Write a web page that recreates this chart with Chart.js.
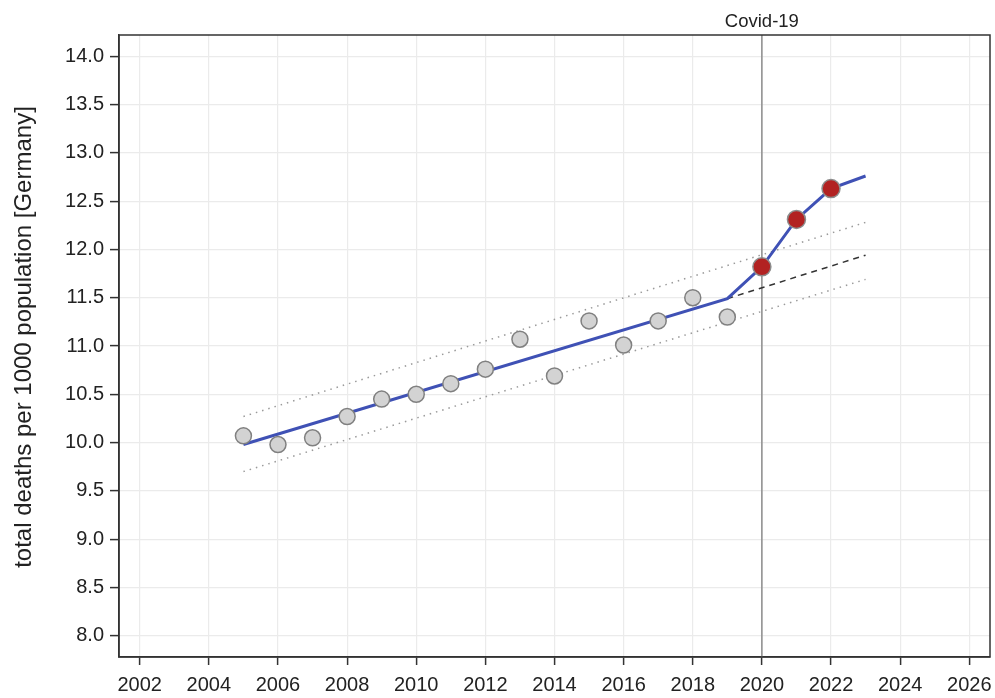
<!DOCTYPE html>
<html>
<head>
<meta charset="utf-8">
<script src="https://cdn.jsdelivr.net/npm/chart.js@4/dist/chart.umd.min.js"></script>
<style>
  html, body { margin: 0; padding: 0; background: #fff; }
  #wrap { width: 995px; height: 698px; }
</style>
</head>
<body>
<div id="wrap"><canvas id="myChart" width="995" height="698"></canvas></div>
<script>
// observed values (deaths per 1000)
var yearsObs = [2005, 2006, 2007, 2008, 2009, 2010, 2011, 2012, 2013, 2014, 2015, 2016, 2017, 2018, 2019];
var deathsObs = [10.07, 9.98, 10.05, 10.27, 10.45, 10.50, 10.61, 10.76, 11.07, 10.69, 11.26, 11.01, 11.26, 11.50, 11.30];

// covid years
var yearsCovid = [2020, 2021, 2022];
var deathsCovid = [11.82, 12.31, 12.63];

// fitted line (trend until 2019, then through covid years)
var fitYears = [2005, 2019, 2020, 2021, 2022, 2023];
var fitValues = [9.98, 11.49, 11.82, 12.31, 12.63, 12.76];

// trend continued without covid
var projYears = [2019, 2023];
var projValues = [11.49, 11.94];

// prediction band
var bandYears = [2005, 2023];
var bandUpper = [10.27, 12.28];
var bandLower = [9.70, 11.69];

var xTicks = [2002, 2004, 2006, 2008, 2010, 2012, 2014, 2016, 2018, 2020, 2022, 2024, 2026];
var yTicks = [8.0, 8.5, 9.0, 9.5, 10.0, 10.5, 11.0, 11.5, 12.0, 12.5, 13.0, 13.5, 14.0];
var covidYear = 2020;
var covidLabel = 'Covid-19';
var yTitle = 'total deaths per 1000 population [Germany]';

var fontFam = '"Liberation Sans", Arial, sans-serif';

function pts(xs, ys) {
    return xs.map(function (x, i) { return { x: x, y: ys[i] }; });
}

// vertical covid line, label, axis title and frame
var extras = {
    id: 'extras',
    beforeDatasetsDraw: function (chart) {
        var c = chart.ctx, a = chart.chartArea;
        var px = chart.scales.x.getPixelForValue(covidYear);
        c.save();
        c.strokeStyle = '#8c8c8c';
        c.lineWidth = 1.5;
        c.beginPath();
        c.moveTo(px, a.top);
        c.lineTo(px, a.bottom);
        c.stroke();
        c.restore();
    },
    afterDraw: function (chart) {
        var c = chart.ctx, a = chart.chartArea;
        var px = chart.scales.x.getPixelForValue(covidYear);
        c.save();
        c.strokeStyle = '#333';
        c.lineWidth = 1.5;
        c.strokeRect(a.left, a.top, a.right - a.left, a.bottom - a.top);
        c.fillStyle = '#222';
        c.font = '18.5px ' + fontFam;
        c.textAlign = 'center';
        c.textBaseline = 'alphabetic';
        c.fillText(covidLabel, px, 27);
        // y title
        c.translate(24, 337);
        c.rotate(-Math.PI / 2);
        c.font = '24px ' + fontFam;
        c.textBaseline = 'middle';
        c.fillText(yTitle, 0, 0);
        c.restore();
    }
};

var ctx = document.getElementById('myChart').getContext('2d');
Chart.defaults.font.family = fontFam;
Chart.defaults.color = '#222';

var myChart = new Chart(ctx, {
    type: 'scatter',
    data: {
        datasets: [
            {
                data: pts(yearsObs, deathsObs),
                showLine: false,
                pointRadius: 8,
                pointBackgroundColor: '#d3d3d3',
                pointBorderColor: '#808080',
                pointBorderWidth: 1.5,
                order: 1
            },
            {
                data: pts(yearsCovid, deathsCovid),
                showLine: false,
                pointRadius: 9,
                pointBackgroundColor: '#b22222',
                pointBorderColor: '#8c8c8c',
                pointBorderWidth: 1.5,
                order: 0
            },
            {
                data: pts(fitYears, fitValues),
                showLine: true,
                pointRadius: 0,
                borderColor: '#3f51b5',
                borderWidth: 3,
                order: 2
            },
            {
                data: pts(projYears, projValues),
                showLine: true,
                pointRadius: 0,
                borderColor: '#333',
                borderWidth: 1.5,
                borderDash: [6, 5],
                order: 3
            },
            {
                data: pts(bandYears, bandUpper),
                showLine: true,
                pointRadius: 0,
                borderColor: '#9a9a9a',
                borderWidth: 1.5,
                borderDash: [1.5, 5],
                order: 4
            },
            {
                data: pts(bandYears, bandLower),
                showLine: true,
                pointRadius: 0,
                borderColor: '#9a9a9a',
                borderWidth: 1.5,
                borderDash: [1.5, 5],
                order: 4
            }
        ]
    },
    plugins: [extras],
    options: {
        responsive: false,
        animation: false,
        layout: { autoPadding: false, padding: { top: 35, right: 5, left: 0, bottom: 0 } },
        plugins: {
            legend: { display: false },
            tooltip: { enabled: false }
        },
        scales: {
            x: {
                type: 'linear',
                min: 2001.4,
                max: 2026.6,
                afterBuildTicks: function (s) { s.ticks = xTicks.map(function (v) { return { value: v }; }); },
                afterFit: function (s) { s.height = 41; s.paddingRight = 0; s.paddingLeft = 0; },
                grid: { color: '#ebebeb', lineWidth: 1.2, tickColor: '#333', tickLength: 8, tickWidth: 1.5 },
                border: { color: '#333', width: 1.5 },
                ticks: {
                    font: { size: 20 },
                    color: '#222',
                    padding: 8,
                    maxRotation: 0,
                    autoSkip: false,
                    callback: function (v) { return String(v); }
                }
            },
            y: {
                type: 'linear',
                min: 7.78,
                max: 14.22,
                afterBuildTicks: function (s) { s.ticks = yTicks.map(function (v) { return { value: v }; }); },
                afterFit: function (s) { s.width = 119; s.paddingTop = 0; s.paddingBottom = 0; },
                grid: { color: '#ebebeb', lineWidth: 1.2, tickColor: '#333', tickLength: 9, tickWidth: 1.5 },
                border: { color: '#333', width: 1.5 },
                ticks: {
                    font: { size: 20 },
                    color: '#222',
                    padding: 6,
                    autoSkip: false,
                    callback: function (v) { return Number(v).toFixed(1); }
                }
            }
        }
    }
});
</script>
</body>
</html>
